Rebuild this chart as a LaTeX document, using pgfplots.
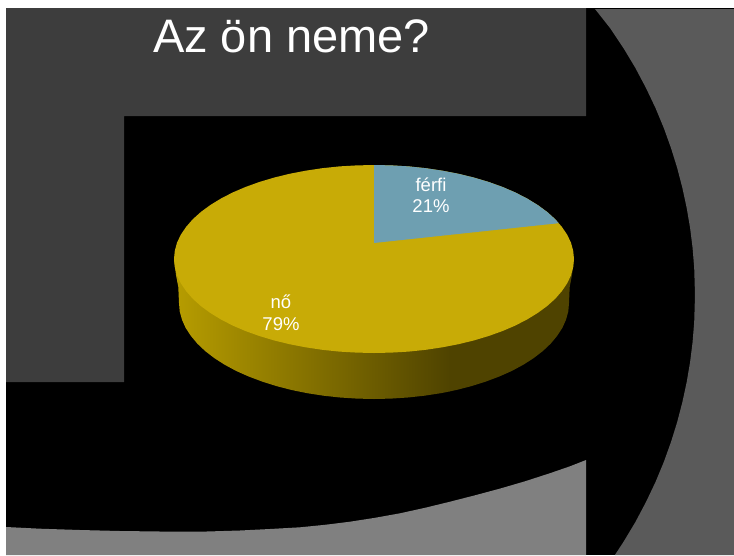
\documentclass[border=0pt]{standalone}
\usepackage{fontspec}
\setmainfont{Liberation Sans}
\usepackage{pgfplots}
\pgfplotsset{compat=1.18}
\definecolor{dark}{HTML}{3D3D3D}
\definecolor{midg}{HTML}{5A5A5A}
\definecolor{lightg}{HTML}{808080}
\definecolor{gold}{HTML}{C8AB06}
\definecolor{teal}{HTML}{6E9FB1}
\definecolor{sideA}{HTML}{B79D00}
\definecolor{sideB}{HTML}{4F4300}
\begin{document}
\begin{tikzpicture}
\begin{axis}[
  scale only axis, width=734pt, height=555pt,
  xmin=0, xmax=734, ymin=0, ymax=555, y dir=reverse,
  axis lines=none, ticks=none, clip=true,
]
% slide
\addplot[fill=white, draw=none] coordinates {(0,0)(734,0)(734,555)(0,555)} --cycle;
\addplot[fill=black, draw=none] coordinates {(6,8)(734,8)(734,555)(6,555)} --cycle;
% right band
\addplot[fill=midg, draw=none] coordinates {(595,9)(610,28)(623.4,48)(635.4,68)(646,88)(655.5,108)(663.8,128)(671,148)(677.2,168)(682.4,188)(686.7,208)(690.1,228)(692.6,248)(694.2,268)(695,295)(694.2,322)(692.6,342)(690.1,362)(686.7,382)(682.4,402)(677.2,422)(671,442)(663.8,462)(655.5,482)(646,502)(635.4,522)(623.4,542)(614.9,555)(734,555)(734,9)} --cycle;
% bottom band
\addplot[fill=lightg, draw=none] coordinates {(6,527)(40,528.7)(80,530)(120,531)(160,531.5)(200,531.7)(240,530.5)(270,529)(300,527.3)(325,524.8)(350,521.7)(375,517.8)(400,513.3)(425,507.8)(450,501.7)(475,495.3)(500,488.6)(525,481.3)(550,473.2)(570,466.3)(586,460)(586,555)(6,555)} --cycle;
% top-left band
\addplot[fill=dark, draw=none] coordinates {(6,8)(586,8)(586,116)(124,116)(124,382)(6,382)} --cycle;
% pie side
\addplot[left color=sideA, right color=sideB, draw=none] coordinates {(174,259)(176,275)(178.3,287)(179,303)(179.7,311.4)(182,319.7)(185.6,327.8)(190.8,335.8)(197.3,343.6)(205.1,351)(214.3,358.1)(224.6,364.7)(236.1,370.9)(248.7,376.5)(262.2,381.6)(276.5,386.1)(291.6,390)(307.3,393.2)(323.5,395.7)(340.1,397.5)(357,398.6)(374,399)(391,398.6)(407.9,397.5)(424.5,395.7)(440.7,393.2)(450,391.4)(450,303)} --cycle;
\addplot[fill=sideB, draw=none] coordinates {(449.5,303)(449.5,391.4)(456.4,390)(471.5,386.1)(485.8,381.6)(499.3,376.5)(511.9,370.9)(523.4,364.7)(533.7,358.1)(542.9,351)(550.7,343.6)(557.2,335.8)(562.4,327.8)(566,319.7)(568.3,311.4)(569,303)(569.7,287)(572,275)(574,259)} --cycle;
% pie top: no 79%
\addplot[fill=gold, draw=none] coordinates {(574,259)(573.2,267.2)(571,275.3)(567.2,283.3)(561.9,291.1)(555.3,298.7)(547.2,306)(537.8,312.9)(527.2,319.4)(515.4,325.5)(502.6,331)(488.7,336)(474,340.4)(458.5,344.2)(442.4,347.3)(425.8,349.8)(408.7,351.6)(391.4,352.6)(374,353)(356.6,352.6)(339.3,351.6)(322.2,349.8)(305.6,347.3)(289.5,344.2)(274,340.4)(259.3,336)(245.4,331)(232.6,325.5)(220.8,319.4)(210.2,312.9)(200.8,306)(192.7,298.7)(186.1,291.1)(180.8,283.3)(177,275.3)(174.8,267.2)(174,259)(174.8,250.8)(177,242.7)(180.8,234.7)(186.1,226.9)(192.7,219.3)(200.8,212)(210.2,205.1)(220.8,198.6)(232.6,192.5)(245.4,187)(259.3,182)(274,177.6)(289.5,173.8)(305.6,170.7)(322.2,168.2)(339.3,166.4)(356.6,165.4)(374,165)(391.4,165.4)(408.7,166.4)(425.8,168.2)(442.4,170.7)(458.5,173.8)(474,177.6)(488.7,182)(502.6,187)(515.4,192.5)(527.2,198.6)(537.8,205.1)(547.2,212)(555.3,219.3)(561.9,226.9)(567.2,234.7)(571,242.7)(573.2,250.8)} --cycle;
% pie top: ferfi 21%
\addplot[fill=teal, draw=none] coordinates {(374,243)(374,165)(391.4,165.4)(408.7,166.4)(425.8,168.2)(442.4,170.7)(458.5,173.8)(474,177.6)(488.7,182)(502.6,187)(515.4,192.5)(527.2,198.6)(537.8,205.1)(547.2,212)(555.3,219.3)(558.6,223.2)} --cycle;
% text
\node[anchor=base, inner sep=0pt, text=white] at (axis cs:291.5,52) {\fontsize{47}{47}\selectfont Az ön neme?};
\node[anchor=base, inner sep=0pt, text=white] at (axis cs:431,191.7) {\fontsize{18.5}{18.5}\selectfont férfi};
\node[anchor=base, inner sep=0pt, text=white] at (axis cs:431,212.7) {\fontsize{18.5}{18.5}\selectfont 21\%};
\node[anchor=base, inner sep=0pt, text=white] at (axis cs:281,308) {\fontsize{18.5}{18.5}\selectfont nő};
\node[anchor=base, inner sep=0pt, text=white] at (axis cs:281,330) {\fontsize{18.5}{18.5}\selectfont 79\%};
\end{axis}
\end{tikzpicture}
\end{document}
